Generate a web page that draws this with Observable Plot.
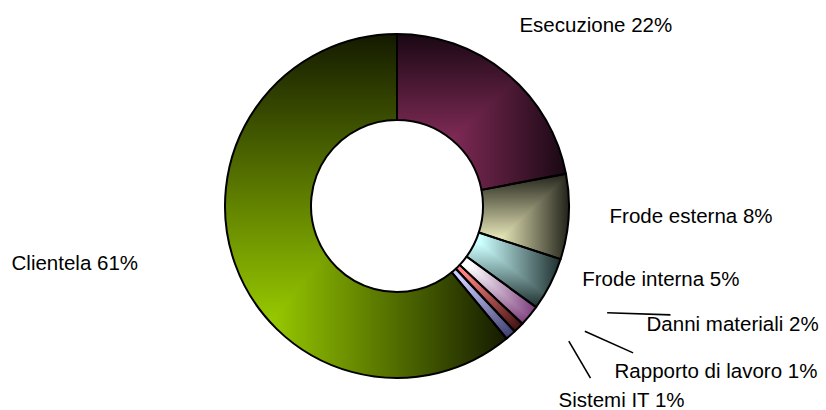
<!DOCTYPE html>
<html>
<head>
<meta charset="utf-8">
<script src="https://cdn.jsdelivr.net/npm/d3@7"></script>
<script src="https://cdn.jsdelivr.net/npm/@observablehq/plot@0.6"></script>
<style>
  html, body { margin: 0; padding: 0; background: #fff; }
  #chart svg { display: block; }
</style>
</head>
<body>
<div id="chart"></div>
<script>
// Loss events by Basel event type (share of total)
const categories = ["Esecuzione", "Frode esterna", "Frode interna", "Danni materiali", "Rapporto di lavoro", "Sistemi IT", "Clientela"];
const shares = [22, 8, 5, 2, 1, 1, 61];

// Each slice is shaded from a light base tone towards a dark tone, starting at one corner of its box
const lightColors = ["#993366", "#FFFFCC", "#CCFFFF", "#FFFFFF", "#FF8080", "#CCCCFF", "#99CC00"];
const darkColors  = ["#1A0814", "#22221A", "#1E2E2E", "#7A3A7A", "#3A0E0E", "#3A3A6A", "#141A00"];
const shadeCorner = ["bottom-left", "bottom-left", "top-left", "top-left", "top-left", "top-left", "bottom-left"];

// Ring geometry in pixels; the x/y scales are expressed in units of the outer radius
const W = 826, H = 410, CX = 397, CY = 206, R = 172, HOLE = 0.5;

// Label placement (in radius units, origin at the ring centre) and leader lines
const labelLayout = {
  "Esecuzione":         [0.709, 1.055],
  "Frode esterna":      [1.233, -0.056],
  "Frode interna":      [1.074, -0.422],
  "Danni materiali":    [1.448, -0.688],
  "Rapporto di lavoro": [1.262, -0.959],
  "Sistemi IT":         [0.936, -1.125],
  "Clientela":          [-2.244, -0.329]
};
const leaderLayout = {
  "Danni materiali":    [1.219, -0.618, 1.587, -0.630],
  "Rapporto di lavoro": [1.089, -0.725, 1.370, -0.851],
  "Sistemi IT":         [0.996, -0.783, 1.122, -0.998]
};

const slices = categories.map((name, i) => ({
  name, share: shares[i], light: lightColors[i], dark: darkColors[i], corner: shadeCorner[i]
}));
const arcs = d3.pie().sort(null).value(d => d.share).startAngle(0)(slices);

const labels = slices.map(d => ({
  text: `${d.name} ${d.share}%`, x: labelLayout[d.name][0], y: labelLayout[d.name][1]
}));
const leaders = Object.entries(leaderLayout).map(([name, [x1, y1, x2, y2]]) => ({name, x1, y1, x2, y2}));

// Custom mark: the donut ring drawn through Plot's x/y scales
function donut(index, scales) {
  const sx = scales.x, sy = scales.y;
  const cx = sx(0), cy = sy(0);
  const outer = sx(1) - sx(0);
  const arc = d3.arc().outerRadius(outer).innerRadius(outer * HOLE);
  const g = d3.create("svg:g").attr("transform", `translate(${cx},${cy})`);
  const defs = g.append("defs");
  arcs.forEach((a, i) => {
    const d = a.data;
    const stops = [[0, d.light], [0.15, d.light], [1, d.dark]];
    const top = d.corner.startsWith("top");
    const h = defs.append("linearGradient").attr("id", `shade-h-${i}`)
      .attr("x1", 0).attr("y1", 0).attr("x2", 1).attr("y2", 0);
    const v = defs.append("linearGradient").attr("id", `shade-v-${i}`)
      .attr("x1", 0).attr("y1", top ? 0 : 1).attr("x2", 0).attr("y2", top ? 1 : 0);
    for (const grad of [h, v]) {
      for (const [o, c] of stops) grad.append("stop").attr("offset", o).attr("stop-color", c);
    }
    const path = arc(a);
    const s = g.append("g").style("isolation", "isolate");
    s.append("path").attr("d", path).attr("fill", `url(#shade-h-${i})`);
    s.append("path").attr("d", path).attr("fill", `url(#shade-v-${i})`).style("mix-blend-mode", "darken");
  });
  g.append("g").selectAll("path").data(arcs).join("path")
    .attr("d", arc)
    .attr("fill", "none")
    .attr("stroke", "#000")
    .attr("stroke-width", 2)
    .attr("stroke-linejoin", "round");
  return g.node();
}

const chart = Plot.plot({
  width: W,
  height: H,
  margin: 0,
  x: {domain: [-CX / R, (W - CX) / R], axis: null},
  y: {domain: [-(H - CY) / R, CY / R], axis: null},
  style: {fontFamily: "Arial, 'Liberation Sans', sans-serif", background: "#fff"},
  marks: [
    donut,
    Plot.link(leaders, {x1: "x1", y1: "y1", x2: "x2", y2: "y2", stroke: "#000", strokeWidth: 1.6}),
    Plot.text(labels, {x: "x", y: "y", text: "text", textAnchor: "start", fontSize: 20.5, fill: "#000"})
  ]
});
document.getElementById("chart").append(chart);
</script>
</body>
</html>
